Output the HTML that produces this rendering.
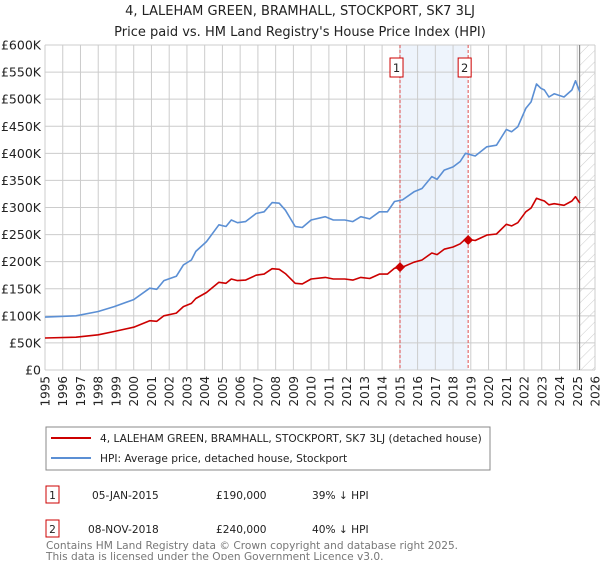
<!DOCTYPE html>
<html><head><meta charset="utf-8">
<style>
body{margin:0;background:#fff;font-family:"DejaVu Sans","Liberation Sans",sans-serif;}
svg text{font-family:"DejaVu Sans","Liberation Sans",sans-serif;}
</style></head>
<body>
<svg id="chart" width="600" height="560" viewBox="0 0 600 560" xmlns="http://www.w3.org/2000/svg">
<defs>
<pattern id="hatch" patternUnits="userSpaceOnUse" width="8" height="8" patternTransform="rotate(45)">
<line x1="0" y1="0" x2="0" y2="8" stroke="#ccc" stroke-width="1"/>
</pattern>
</defs>
<text x="300" y="15" text-anchor="middle" font-size="13" fill="#222">4, LALEHAM GREEN, BRAMHALL, STOCKPORT, SK7 3LJ</text>
<text x="300" y="36" text-anchor="middle" font-size="13" fill="#222">Price paid vs. HM Land Registry's House Price Index (HPI)</text>
<g id="plot"></g>
<g>
<rect x="46" y="427" width="444" height="43" fill="#fff" stroke="#888"/>
<line x1="51" y1="438" x2="91" y2="438" stroke="#cc0000" stroke-width="2"/>
<text x="100" y="442" font-size="10.6" fill="#222">4, LALEHAM GREEN, BRAMHALL, STOCKPORT, SK7 3LJ (detached house)</text>
<line x1="51" y1="458" x2="91" y2="458" stroke="#5b8fd4" stroke-width="2"/>
<text x="100" y="462" font-size="10.6" fill="#222">HPI: Average price, detached house, Stockport</text>
</g>
<g font-size="10.6" fill="#222">
<rect x="46" y="486" width="13" height="17" fill="#fff" stroke="#cc0000"/>
<text x="52.5" y="499" text-anchor="middle">1</text>
<text x="92" y="499">05-JAN-2015</text>
<text x="216" y="499">£190,000</text>
<text x="312" y="499">39% ↓ HPI</text>
</g>
<g font-size="10.6" fill="#222">
<rect x="46" y="520" width="13" height="17" fill="#fff" stroke="#cc0000"/>
<text x="52.5" y="533" text-anchor="middle">2</text>
<text x="88" y="533">08-NOV-2018</text>
<text x="216" y="533">£240,000</text>
<text x="312" y="533">40% ↓ HPI</text>
</g>
<text x="46" y="549" font-size="10.6" fill="#777">Contains HM Land Registry data © Crown copyright and database right 2025.</text>
<text x="46" y="560" font-size="10.6" fill="#777">This data is licensed under the Open Government Licence v3.0.</text>
</svg>
<script>
const years = [1995.0,1996.75,1998.0,1998.9,2000.0,2000.9,2001.3,2001.7,2002.4,2002.8,2003.25,2003.5,2004.1,2004.8,2005.2,2005.5,2005.85,2006.3,2006.9,2007.35,2007.8,2008.2,2008.55,2009.1,2009.5,2010.0,2010.8,2011.25,2011.9,2012.35,2012.8,2013.3,2013.85,2014.3,2014.7,2015.15,2015.8,2016.25,2016.8,2017.1,2017.5,2018.0,2018.4,2018.7,2019.25,2019.9,2020.45,2021.0,2021.3,2021.65,2022.1,2022.4,2022.7,2022.95,2023.15,2023.4,2023.7,2024.25,2024.7,2024.9,2025.15];
const hpiValues = [97.6,100,108,117,130,151,149,165,173,194,203,219,237,268,265,277,272,274,289,292,309,308,295,265,263,277,283,277,277,274,283,279,292,292,311,314,329,335,357,352,369,375,385,400,395,412,415,444,440,449,483,495,528,520,517,504,510,504,517,534,513];
const priceValues = [59,60.5,65,71,79,91,90,100,105,117,123,132,143,162,160,168,165,166,175,177,187,186,178,160,159,168,171,168,168,166,171,169,177,177,188,190,199,203,216,213,223,227,233,242,239,249,251,269,266,272,292,299,317,314,312,305,307,304,312,320,308];
const saleYears = [2015.01, 2018.85];
const saleValues = [190, 240];
const saleLabels = ["1","2"];
const yTicks = [0,50,100,150,200,250,300,350,400,450,500,550,600];
const yTickLabels = ["£0","£50K","£100K","£150K","£200K","£250K","£300K","£350K","£400K","£450K","£500K","£550K","£600K"];
const xTicks = [1995,1996,1997,1998,1999,2000,2001,2002,2003,2004,2005,2006,2007,2008,2009,2010,2011,2012,2013,2014,2015,2016,2017,2018,2019,2020,2021,2022,2023,2024,2025,2026];
const dataEnd = 2025.13;

const L=45,R=595,T=45,B=370;
const NS="http://www.w3.org/2000/svg";
const X=y=>L+(y-1995)/(2026-1995)*(R-L);
const Y=v=>B-v/600*(B-T);
const g=document.getElementById('plot');
function mk(tag,attrs,parent){const e=document.createElementNS(NS,tag);for(const k in attrs)e.setAttribute(k,attrs[k]);(parent||g).appendChild(e);return e;}

let e=mk('rect',{x:X(saleYears[0]),y:T,width:X(saleYears[1])-X(saleYears[0]),height:B-T,fill:'#eef4fc'});


xTicks.forEach(t=>{
  const l=mk('line',{x1:X(t),x2:X(t),y1:T,y2:B,stroke:'#ccc','stroke-width':1});
  
  
  const tx=mk('text',{x:0,y:0,'font-size':12,fill:'#222','text-anchor':'end',transform:`translate(${X(t)+4.5},376) rotate(-90)`});
  tx.textContent=t;
  
  
});
yTicks.forEach((t,i)=>{
  const l=mk('line',{x1:L,x2:R,y1:Y(t),y2:Y(t),stroke:'#ccc','stroke-width':1});
  
  
  const tx=mk('text',{x:41,y:Y(t)+4.5,'font-size':12.5,fill:'#222','text-anchor':'end'});
  tx.textContent=yTickLabels[i];
  
  
});
e=mk('rect',{x:X(dataEnd),y:T,width:R-X(dataEnd),height:B-T,fill:'url(#hatch)'});


e=mk('line',{x1:X(dataEnd),x2:X(dataEnd),y1:T,y2:B,stroke:'#888','stroke-width':1.2});


saleYears.forEach((s,i)=>{
  const l=mk('line',{x1:X(s),x2:X(s),y1:T,y2:B,stroke:'#e05050','stroke-width':1,'stroke-dasharray':'3,2'});
  
  
});
const pts=(vals)=>years.map((y,i)=>X(y).toFixed(1)+','+Y(vals[i]).toFixed(1)).join(' ');
e=mk('polyline',{points:pts(hpiValues),fill:'none',stroke:'#5b8fd4','stroke-width':1.6,'stroke-linejoin':'round'});


e=mk('polyline',{points:pts(priceValues),fill:'none',stroke:'#cc0000','stroke-width':1.6,'stroke-linejoin':'round'});


saleYears.forEach((s,i)=>{
  const cx=X(s),cy=Y(saleValues[i]);
  const d=mk('polygon',{points:`${cx},${cy-5} ${cx+5},${cy} ${cx},${cy+5} ${cx-5},${cy}`,fill:'#cc0000'});
  
  
  const b=mk('rect',{x:cx-10,y:58,width:13,height:19,fill:'#fff',stroke:'#cc0000'});
  
  
  const t=mk('text',{x:cx-3.5,y:72,'font-size':11.5,'text-anchor':'middle',fill:'#222'});
  t.textContent=saleLabels[i];
  
  
});
</script>
</body></html>
